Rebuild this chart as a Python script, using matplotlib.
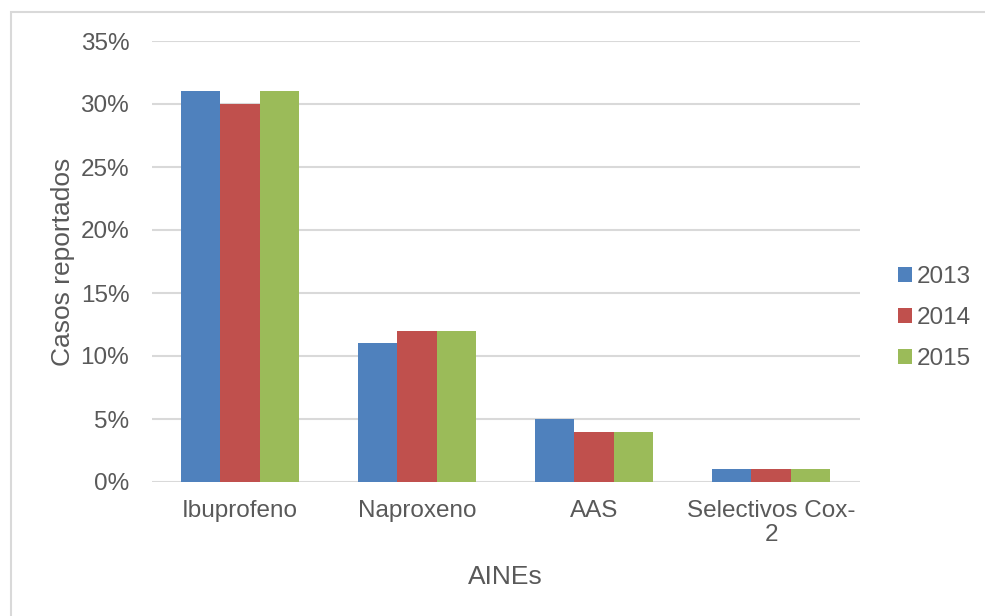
import matplotlib.pyplot as plt
import numpy as np
from matplotlib.patches import Rectangle

plt.rcParams['font.family'] = ['Liberation Sans', 'DejaVu Sans']

# Casos reportados por AINE y año
aines = ["Ibuprofeno", "Naproxeno", "AAS", "Selectivos Cox-\n2"]
years = ["2013", "2014", "2015"]
casos_2013 = [0.31, 0.11, 0.05, 0.01]
casos_2014 = [0.30, 0.12, 0.04, 0.01]
casos_2015 = [0.31, 0.12, 0.04, 0.01]
y_ticks = [0, 0.05, 0.10, 0.15, 0.20, 0.25, 0.30, 0.35]

colors = ["#4F81BD", "#C0504D", "#9BBB59"]
text_color = "#595959"
grid_color = "#D9D9D9"

fig = plt.figure(figsize=(9.85, 6.16), dpi=100)
ax = fig.add_axes([151.5 / 985, 1 - 482 / 616, 708 / 985, 441 / 616])

x = np.arange(len(aines))
w = 0.222
for i, (serie, c, lab) in enumerate(zip([casos_2013, casos_2014, casos_2015], colors, years)):
    ax.bar(x + (i - 1) * w, serie, width=w, color=c, label=lab, zorder=3)

ax.set_xlim(-0.5, len(aines) - 0.5)
ax.set_ylim(0, 0.35)
ax.set_yticks(y_ticks)
ax.set_yticklabels([f"{int(round(t * 100))}%" for t in y_ticks])
ax.set_xticks(x)
ax.set_xticklabels(aines, linespacing=1.1)

ax.grid(axis="y", color=grid_color, linewidth=1.5, zorder=0)
ax.set_axisbelow(True)
for s in ax.spines.values():
    s.set_visible(False)
ax.tick_params(axis="both", length=0, labelsize=17.5, colors=text_color)
ax.tick_params(axis="y", pad=16)
ax.tick_params(axis="x", pad=13)

ax.set_xlabel("AINEs", fontsize=19, color=text_color, labelpad=14)
ax.set_ylabel("Casos reportados", fontsize=19, color=text_color, labelpad=4)

leg = ax.legend(loc="center left", bbox_to_anchor=(1.0, 0.372), frameon=False,
                fontsize=17.5, handlelength=0.55, handleheight=0.55,
                handletextpad=0.22, labelspacing=0.78, borderaxespad=1.2)
for t in leg.get_texts():
    t.set_color(text_color)

# marco del gráfico
fig.patches.append(Rectangle((11 / 985, -0.05), 1.1, 1 - 12 / 616 + 0.05,
                             transform=fig.transFigure, fill=False,
                             edgecolor=grid_color, linewidth=1.5))

fig.savefig("out.png", dpi=100)
